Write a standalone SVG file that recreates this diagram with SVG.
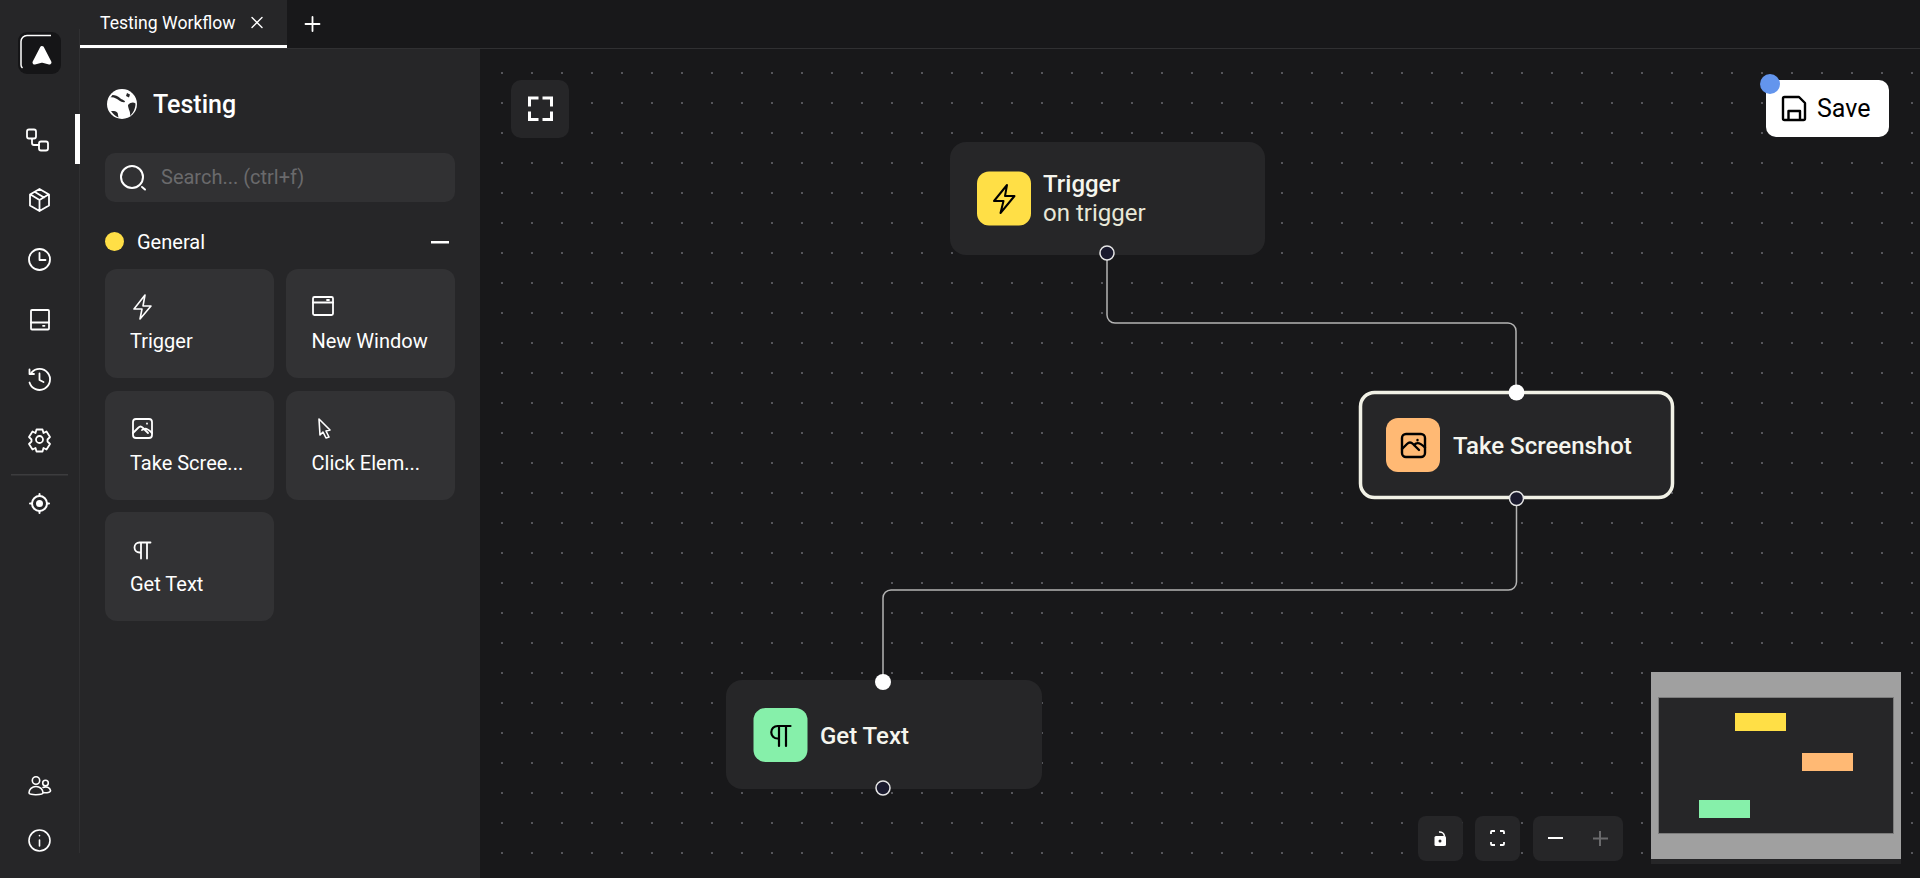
<svg xmlns="http://www.w3.org/2000/svg" width="1920" height="878" viewBox="0 0 1920 878">
<style>
text{font-family:Roboto,"Liberation Sans",sans-serif;fill:#fff}
.ic{fill:none;stroke:#fff;stroke-linecap:round;stroke-linejoin:round}
.ik{fill:none;stroke:#000;stroke-linecap:round;stroke-linejoin:round}
.card{fill:#323234}
.nb{fill:#262628}
.lbl{font-size:20px;font-weight:400}
.nt{font-size:24px;font-weight:500;fill:#f5f5ee}
.tgt{fill:#fff}
.src{fill:#1a1a2e;stroke:#e6e6e6;stroke-width:1.5}
.edge{fill:none;stroke:#b4b4b4;stroke-width:1.5}
.ctl{fill:#262628}
</style>
<defs>
<pattern id="dots" x="22" y="13" width="30" height="30" patternUnits="userSpaceOnUse"><rect x="-1" y="-1" width="2" height="2" fill="#55555a"/><rect x="29" y="-1" width="2" height="2" fill="#55555a"/><rect x="-1" y="29" width="2" height="2" fill="#55555a"/><rect x="29" y="29" width="2" height="2" fill="#55555a"/></pattern>
</defs>
<rect width="1920" height="878" fill="#18181a"/>
<rect x="480" y="49" width="1440" height="829" fill="url(#dots)"/>
<rect x="80" y="48" width="1840" height="1" fill="#303032"/>
<g id="rail">
<rect width="80" height="878" fill="#262628"/>
<rect x="79" y="29" width="1" height="824" fill="#303032"/>
<rect x="18" y="32" width="43" height="42" rx="9" fill="#151517"/>
<path d="M51 35.500H27a6 6 0 0 0-6 6V65a4 4 0 0 0 1.500 3" fill="none" stroke="#fff" stroke-width="1.5"/>
<path d="M42 48L49.500 62.500 42 60.500 34.500 62.500Z" fill="#fff" stroke="#fff" stroke-width="4" stroke-linejoin="round"/>
<rect x="75" y="114" width="5" height="50" fill="#fff"/>
<g class="ic" stroke-width="1.8">
<rect x="27" y="129.500" width="9" height="9" rx="2"/><rect x="39" y="141.500" width="9" height="9" rx="2"/><path d="M32 139v4a2 2 0 0 0 2 2h5"/>
<path d="M39.500 189l9.500 5.500v11l-9.500 5.500-9.500-5.500v-11ZM30.500 194.500l9 5.500 9-5.500M39.500 200v11M35 192l9 5.500"/>
<circle cx="39.500" cy="259.500" r="10.500"/><path d="M39.500 253v7h6"/>
<rect x="31" y="310" width="18" height="19.500" rx="1"/><path d="M31 322.500h18M43 325.800h1.500"/>
<path d="M31.500 372.700A10.500 10.500 0 1 1 29.500 382.500M29.500 369.500v4.500h4.500M39.500 373.500v6.500l4 2"/>
<path d="M36.500 429.500h6l1 3.500 3-1.500 3.500 5.500-2.500 2.500v2l2.500 2.500-3.500 5.500-3-1.500-1 3.500h-6l-1-3.500-3 1.500-3.500-5.500 2.500-2.500v-2l-2.500-2.500 3.500-5.500 3 1.500Z"/><circle cx="39.500" cy="439.500" r="3.500"/>
</g>
<rect x="11" y="474" width="57" height="1.500" fill="#3c3c3e"/>
<g class="ic" stroke-width="2">
<circle cx="39.500" cy="503.500" r="7.500"/><circle cx="39.500" cy="503.500" r="2.500" fill="#fff"/><path d="M39.500 494v2M39.500 511v2M30 503.500h2M47 503.500h2"/>
</g>
<g class="ic" stroke-width="1.600">
<circle cx="36" cy="780.500" r="3.700"/><circle cx="45.500" cy="783" r="2.800"/><path d="M29 793c0-3.500 3-6.500 7-6.500s7 3 7 6.500c0 2-14 2.500-14 0ZM43 787.500c3-1.500 7 0 7.500 3 .3 2-4 2.500-7 2"/>
<circle cx="39.500" cy="840.500" r="10.500"/><path d="M39.500 840v6M39.500 835.500v.2"/>
</g>
</g>
<g id="tabs">
<rect x="80" width="207" height="48" fill="#262628"/>
<rect x="80" y="45" width="207" height="3" fill="#fff"/>
<text x="100" y="29" font-size="17.600">Testing Workflow</text>
<path class="ic" stroke-width="1.400" d="M252 17.500l10 10M262 17.500l-10 10"/>
<path class="ic" stroke-width="1.800" d="M312.500 17v14M305.500 24h14"/>
</g>
<g id="sidebar">
<rect x="80" y="49" width="400" height="829" fill="#262628"/>
<circle cx="122" cy="104" r="15" fill="#fff"/>
<path d="M112.500 95C115 95 118 96 120 98C122 100 125 100 125 102C121 103 119 100 116 98.500C114 97.500 112 97 110.500 97.500ZM128 105C131 102 133.500 102 135.500 103.500C135.500 109 133 113 130 116C131 112 128 109 128 105ZM113 111C116 111 118 112 118 115L118.500 117.500C115 116 113 114 111 111ZM127 93l3 1.500-1 3-3-1.500Z" fill="#262628"/>
<text x="153" y="113" font-size="25" font-weight="500">Testing</text>
<rect x="105" y="153" width="350" height="49" rx="10" fill="#313133"/>
<circle cx="132" cy="177" r="11" fill="none" stroke="#fff" stroke-width="2"/><path d="M142 187l3 2.500" stroke="#fff" stroke-width="2" stroke-linecap="round"/>
<text x="161" y="184" font-size="20" style="fill:#6a6a6c">Search... (ctrl+f)</text>
<circle cx="114.500" cy="241.500" r="9.500" fill="#ffdf46"/>
<text x="137" y="249" font-size="20">General</text>
<rect x="431" y="241" width="18" height="2.500" fill="#fff"/>
</g>
<g id="palette-trigger"><rect class="card" x="105" y="269" width="169" height="109" rx="12"/><path class="ic" stroke-width="1.600" d="M145 295l-11 14h8l-2 10 11-13h-8Z"/><text class="lbl" x="130" y="348">Trigger</text></g>
<g id="palette-window"><rect class="card" x="286" y="269" width="169" height="109" rx="12"/><g class="ic" stroke-width="1.800"><rect x="313" y="297" width="20" height="18" rx="1.500"/><path d="M313 302.500h20M327 300h2"/></g><text class="lbl" x="311.500" y="348">New Window</text></g>
<g id="palette-screenshot"><rect class="card" x="105" y="391" width="169" height="109" rx="12"/><g class="ic" stroke-width="1.800"><rect x="133" y="419" width="19" height="19" rx="3"/><path d="M133 433l5-5c2-2 3-2 5 0l5 5M142 430l2-1c2-1 4 0 8 4M147 423.500v.2"/></g><text class="lbl" x="130" y="470">Take Scree...</text></g>
<g id="palette-click"><rect class="card" x="286" y="391" width="169" height="109" rx="12"/><path class="ic" stroke-width="1.600" d="M319 419l11 11-4 1 3 6-3 1-3-6-3 3Z"/><text class="lbl" x="311.500" y="470">Click Elem...</text></g>
<g id="palette-text"><rect class="card" x="105" y="512" width="169" height="109" rx="12"/><path class="ic" stroke-width="1.800" d="M150.500 542.500h-11a5 5 0 0 0 0 10h1.500M141 542.500v16M147 542.500v16"/><text class="lbl" x="130" y="591">Get Text</text></g>
<g id="connectors">
<path class="edge" d="M1107 253V315a8 8 0 0 0 8 8H1508a8 8 0 0 1 8 8V392"/>
<path class="edge" d="M1516.500 498V582a8 8 0 0 1-8 8H891a8 8 0 0 0-8 8V682"/>
</g>
<g id="node-trigger">
<rect class="nb" x="950" y="142" width="315" height="113" rx="16"/>
<rect x="977" y="171.500" width="54" height="54" rx="12" fill="#ffdf46"/>
<path class="ik" stroke-width="2" d="M1007 185l-13 16h9.500l-3 12 14-17h-9.500Z"/>
<text class="nt" x="1043" y="192">Trigger</text>
<text x="1043" y="221" font-size="24" style="fill:#e8e8d8">on trigger</text>
<circle class="src" cx="1107" cy="253" r="7"/>
</g>
<g id="node-screenshot">
<rect x="1360.500" y="392.500" width="312" height="105" rx="14" fill="#262628" stroke="#f1f1e6" stroke-width="3.500"/>
<rect x="1386" y="418" width="54" height="54" rx="12" fill="#ffb974"/>
<g class="ik" stroke-width="2.400"><rect x="1402" y="434" width="23" height="23" rx="4"/><path d="M1402 449l5-5c2-2 4-2 6 0l6 6M1414 445l2-1.500c2-1 5 0 9 4M1417.500 440v.2"/></g>
<text class="nt" x="1453" y="454">Take Screenshot</text>
<circle class="tgt" cx="1516.500" cy="392.500" r="8"/>
<circle class="src" cx="1516.500" cy="498.500" r="7"/>
</g>
<g id="node-gettext">
<rect class="nb" x="726" y="680" width="316" height="109" rx="16"/>
<rect x="753.500" y="708" width="54" height="54" rx="12" fill="#86f0aa"/>
<path class="ik" stroke-width="2.200" d="M790.500 726h-13a6 6 0 0 0 0 12.500h1.500M779 726v20M786 726v20"/>
<text class="nt" x="820" y="743.500">Get Text</text>
<circle class="tgt" cx="883" cy="682" r="8"/>
<circle class="src" cx="883" cy="788" r="7"/>
</g>
<g id="controls">
<rect class="ctl" x="511" y="80" width="58" height="58" rx="10"/>
<path d="M529.500 106.500v-8.500h9M551.500 106.500v-8.500h-9M529.500 111.500v8h9M551.500 111.500v8h-9" fill="none" stroke="#fff" stroke-width="3"/>
<rect class="ctl" x="1418" y="816" width="45" height="45" rx="8"/>
<path d="M1439 832a5 5 0 0 1 5.500 4" fill="none" stroke="#fff" stroke-width="1.500"/>
<rect x="1434.500" y="836" width="11.500" height="10" rx="1.500" fill="#fff"/><circle cx="1440" cy="841" r="1.500" fill="#262628"/>
<rect class="ctl" x="1475" y="816" width="45" height="45" rx="8"/>
<path d="M1491 834v-2a1 1 0 0 1 1-1h3M1504 834v-2a1 1 0 0 0-1-1h-3M1491 842v2a1 1 0 0 0 1 1h3M1504 842v2a1 1 0 0 1-1 1h-3" fill="none" stroke="#fff" stroke-width="1.800"/>
<rect class="ctl" x="1533" y="816" width="90" height="45" rx="8"/>
<rect x="1548" y="837" width="15" height="2" fill="#fff"/>
<path d="M1600 831v15M1593 838.500h15" stroke="#6a6a6c" stroke-width="2" fill="none"/>
</g>
<g id="save">
<rect x="1766" y="80" width="123" height="57" rx="10" fill="#fff"/>
<path class="ik" stroke-width="2.400" d="M1783 98.500a1.500 1.500 0 0 1 1.500-1.500h14.500l6 6v15.500a1.500 1.500 0 0 1-1.500 1.500h-19a1.500 1.500 0 0 1-1.500-1.500ZM1788.500 119.500v-8.500h11.500v8.500"/>
<text x="1817" y="117" font-size="25" style="fill:#000">Save</text>
<circle cx="1770" cy="84" r="10" fill="#6395ed"/>
</g>
<g id="minimap">
<rect x="1651" y="672" width="250" height="192" fill="#262628"/>
<rect x="1651" y="672" width="250" height="187" fill="#a0a0a0"/>
<rect x="1658.500" y="697.500" width="235" height="136" fill="#262628" stroke="#7c7c7c"/>
<rect x="1735" y="713" width="51" height="18" fill="#ffdf46"/>
<rect x="1802" y="753" width="51" height="18" fill="#ffb974"/>
<rect x="1699" y="800" width="51" height="18" fill="#86f0aa"/>
</g>
</svg>
